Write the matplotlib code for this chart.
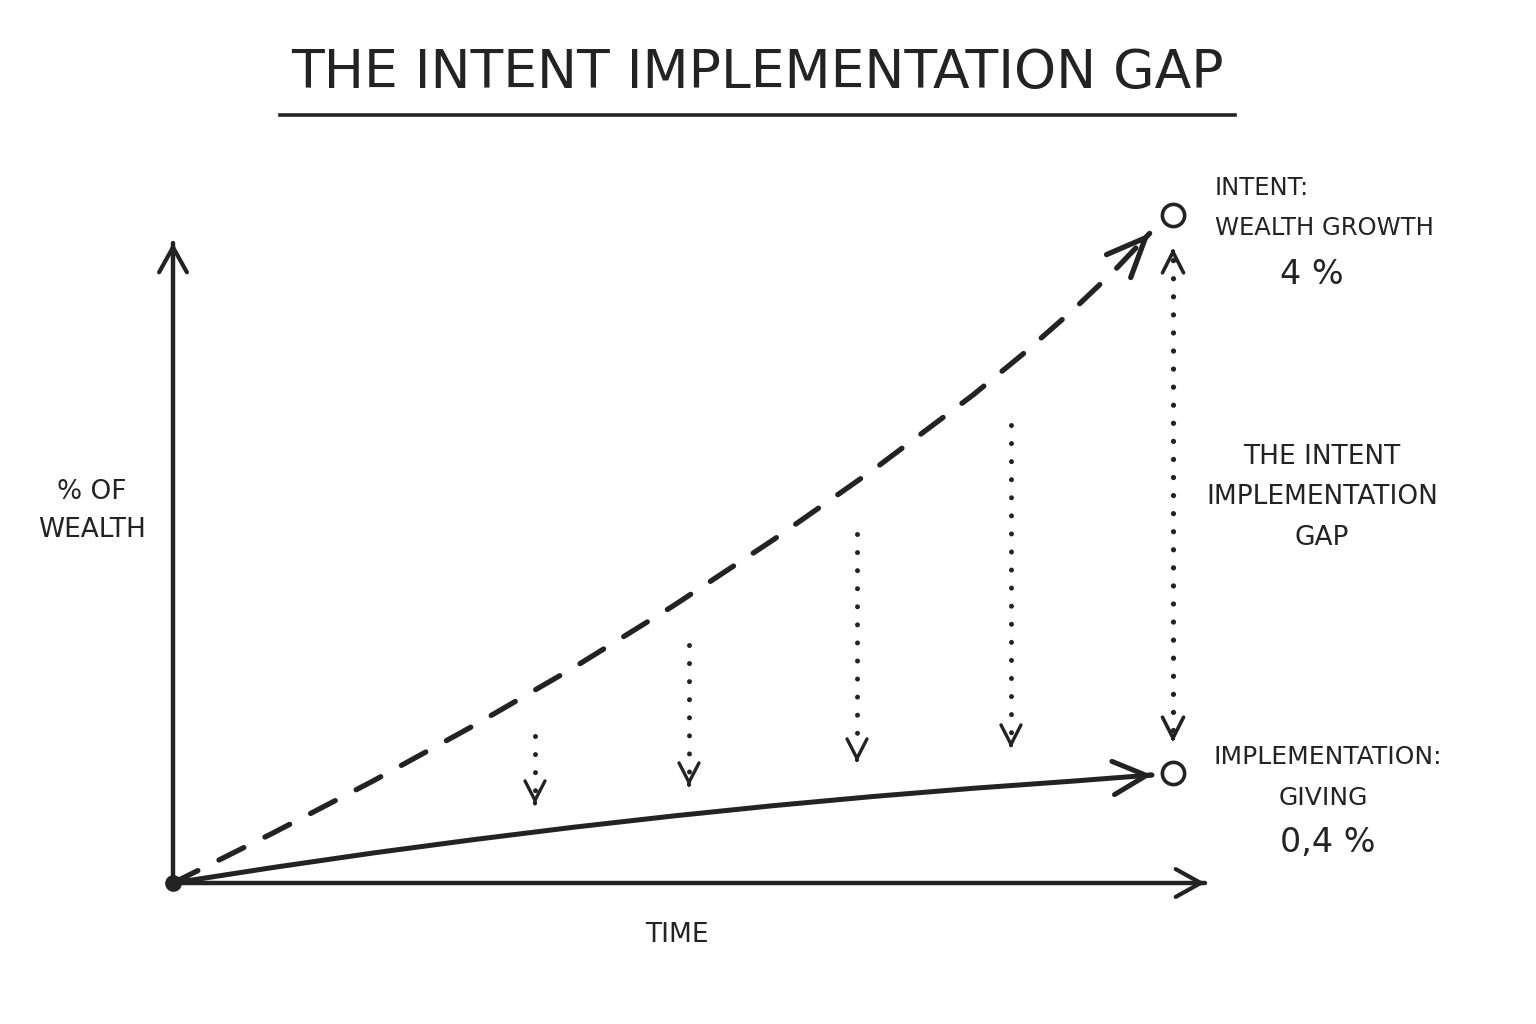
import matplotlib
matplotlib.use("Agg")
import matplotlib.pyplot as plt
from matplotlib.lines import Line2D

plt.rcParams["font.family"] = ["DejaVu Sans"]
plt.rcParams["lines.scale_dashes"] = False

INK = "#232323"

# ---------------------------------------------------------------------------
# data (time units / index units)
# ---------------------------------------------------------------------------
intent_t = [0, 1, 2, 3, 4, 5, 6, 7, 8, 8.5, 9, 9.4, 9.77]
intent_y = [0, 0.50, 1.02, 1.57, 2.15, 2.77, 3.43, 4.13, 4.88, 5.29, 5.73,
            6.11, 6.50]

impl_t = [0, 1, 2, 3, 4, 5, 6, 7, 8, 9, 9.79]
impl_y = [0, 0.155, 0.30, 0.433, 0.557, 0.67, 0.773, 0.865, 0.947, 1.019, 1.08]

# dotted "gap" arrows between the two paths
gap_t = [3.62, 5.16, 6.84, 8.38]
gap_top = [1.47, 2.38, 3.49, 4.58]
gap_tip = [0.79, 0.97, 1.21, 1.35]

end_t = 10.0
intent_end = 6.68
impl_end = 1.10
big_gap = (1.41, 6.35)

x_axis_end = 10.32
y_axis_end = 6.40

# ---------------------------------------------------------------------------
fig = plt.figure(figsize=(15.36, 10.24), dpi=100)
fig.patch.set_facecolor("white")
ax = fig.add_axes([0, 0, 1, 1])
ax.set_xlim(-1.73, 13.63)
ax.set_ylim(-1.41, 8.83)
ax.axis("off")


def head(tip, prev, size=1.0, lw=3.0, hl=1.2, hw=0.6):
    """open arrow head at tip, pointing away from prev."""
    tx, ty = tip
    px_, py_ = prev
    back = (tx - (tx - px_) * 0.01, ty - (ty - py_) * 0.01)
    ax.annotate(
        "", xy=tip, xytext=back,
        arrowprops=dict(
            arrowstyle=f"->,head_length={hl},head_width={hw}",
            color=INK, lw=lw, shrinkA=0, shrinkB=0,
            mutation_scale=20 * size, capstyle="round", joinstyle="round",
        ),
    )


# axes
ax.plot([0, x_axis_end], [0, 0], color=INK, lw=3.2, solid_capstyle="round")
ax.plot([0, 0], [0, y_axis_end], color=INK, lw=3.2, solid_capstyle="round")
head((x_axis_end, 0), (0, 0), lw=3.0, hl=0.9, hw=0.5)
head((0, y_axis_end), (0, 0), lw=3.0, hl=0.9, hw=0.5)

# intent: dashed curve
ax.plot(intent_t, intent_y, color=INK, lw=3.8, dashes=(20, 17),
        dash_capstyle="round", solid_joinstyle="round")
head((intent_t[-1], intent_y[-1]), (intent_t[-2], intent_y[-2]),
     lw=3.8, hl=1.4, hw=0.6)

# implementation: solid line
ax.plot(impl_t, impl_y, color=INK, lw=3.6, solid_capstyle="round",
        solid_joinstyle="round")
head((impl_t[-1], impl_y[-1]), (impl_t[-2], impl_y[-2]),
     lw=3.6, hl=1.2, hw=0.6)

# small dotted arrows
for t, top, tip in zip(gap_t, gap_top, gap_tip):
    ax.plot([t, t], [top, tip + 0.12], color=INK, lw=3.6,
            dashes=(0.01, 13.0), dash_capstyle="round")
    head((t, tip), (t, top), lw=2.4, hl=0.7, hw=0.36)

# the big gap double arrow
ax.plot([end_t, end_t], [big_gap[0] + 0.12, big_gap[1] - 0.12], color=INK,
        lw=3.8, dashes=(0.01, 13.0), dash_capstyle="round")
head((end_t, big_gap[1]), (end_t, big_gap[0]), lw=2.6, hl=0.75, hw=0.38)
head((end_t, big_gap[0]), (end_t, big_gap[1]), lw=2.6, hl=0.75, hw=0.38)

# end markers + origin
ax.plot([end_t, end_t], [intent_end, impl_end], "o", ls="none", ms=16,
        mfc="white", mec=INK, mew=2.6)
ax.plot([0], [0], "o", ms=11, color=INK)


# ---------------------------------------------------------------------------
# text (placed in figure pixels)
# ---------------------------------------------------------------------------
def ftext(x, y, s, size, ha="center"):
    fig.text(x / 1536, 1 - y / 1024, s, fontsize=size, ha=ha, va="center",
             color=INK)


ftext(757, 73, "THE INTENT IMPLEMENTATION GAP", 38.5)
fig.add_artist(Line2D([280 / 1536, 1235 / 1536], [1 - 115 / 1024] * 2,
                      color=INK, lw=2.6))

ftext(92, 492, "% OF", 19)
ftext(92, 530, "WEALTH", 19)
ftext(677, 935, "TIME", 19)

ftext(1215, 188, "INTENT:", 17.5, ha="left")
ftext(1215, 228, "WEALTH GROWTH", 17.5, ha="left")
ftext(1312, 274, "4 %", 24)

ftext(1322, 457, "THE INTENT", 19)
ftext(1322, 497, "IMPLEMENTATION", 19)
ftext(1322, 538, "GAP", 19)

ftext(1213, 757, "IMPLEMENTATION:", 18, ha="left")
ftext(1323, 798, "GIVING", 18)
ftext(1328, 842, "0,4 %", 24)

fig.savefig("out.png", dpi=100, facecolor="white")
